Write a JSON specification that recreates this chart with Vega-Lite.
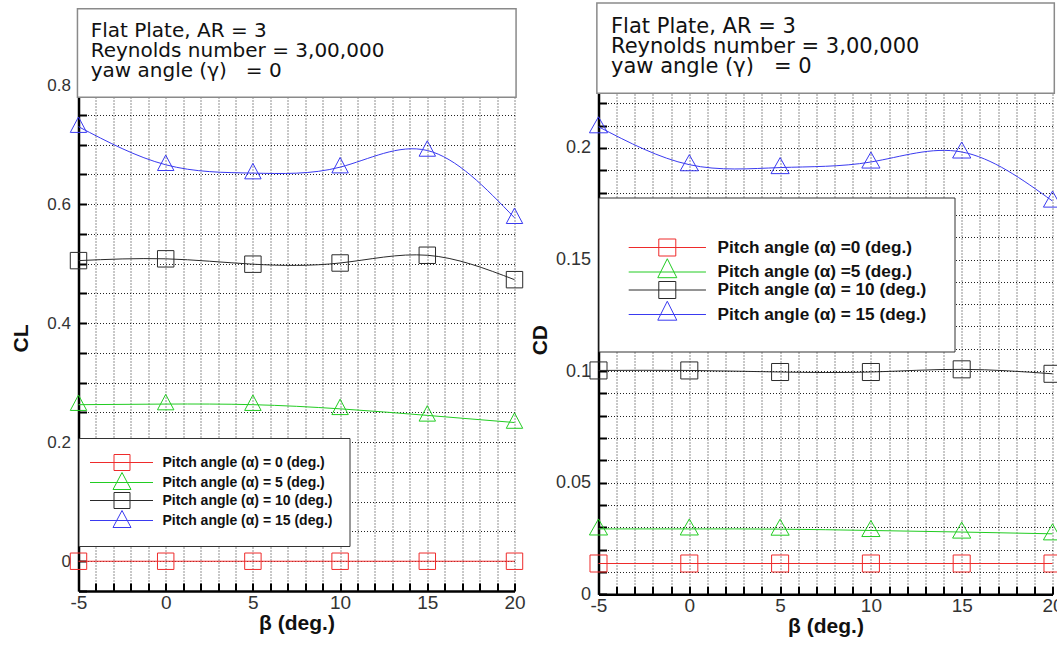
{
  "$schema": "https://vega.github.io/schema/vega-lite/v6.json",
  "background": "white",
  "padding": {"left": 10.5, "top": 2, "right": 0, "bottom": 0},
  "spacing": 3,
  "config": {"view": {"stroke": null}, "font": "Liberation Sans"},
  "datasets": {
    "cl": [
      {"beta": -5, "value": 0, "series": "Pitch angle (α) = 0 (deg.)"},
      {"beta": 0, "value": 0, "series": "Pitch angle (α) = 0 (deg.)"},
      {"beta": 5, "value": 0, "series": "Pitch angle (α) = 0 (deg.)"},
      {"beta": 10, "value": 0, "series": "Pitch angle (α) = 0 (deg.)"},
      {"beta": 15, "value": 0, "series": "Pitch angle (α) = 0 (deg.)"},
      {"beta": 20, "value": 0, "series": "Pitch angle (α) = 0 (deg.)"},
      {"beta": -5, "value": 0.263, "series": "Pitch angle (α) = 5 (deg.)"},
      {"beta": 0, "value": 0.264, "series": "Pitch angle (α) = 5 (deg.)"},
      {"beta": 5, "value": 0.263, "series": "Pitch angle (α) = 5 (deg.)"},
      {"beta": 10, "value": 0.256, "series": "Pitch angle (α) = 5 (deg.)"},
      {"beta": 15, "value": 0.245, "series": "Pitch angle (α) = 5 (deg.)"},
      {"beta": 20, "value": 0.233, "series": "Pitch angle (α) = 5 (deg.)"},
      {"beta": -5, "value": 0.505, "series": "Pitch angle (α) = 10 (deg.)"},
      {"beta": 0, "value": 0.508, "series": "Pitch angle (α) = 10 (deg.)"},
      {"beta": 5, "value": 0.499, "series": "Pitch angle (α) = 10 (deg.)"},
      {"beta": 10, "value": 0.501, "series": "Pitch angle (α) = 10 (deg.)"},
      {"beta": 15, "value": 0.514, "series": "Pitch angle (α) = 10 (deg.)"},
      {"beta": 20, "value": 0.473, "series": "Pitch angle (α) = 10 (deg.)"},
      {"beta": -5, "value": 0.730, "series": "Pitch angle (α) = 15 (deg.)"},
      {"beta": 0, "value": 0.666, "series": "Pitch angle (α) = 15 (deg.)"},
      {"beta": 5, "value": 0.652, "series": "Pitch angle (α) = 15 (deg.)"},
      {"beta": 10, "value": 0.662, "series": "Pitch angle (α) = 15 (deg.)"},
      {"beta": 15, "value": 0.690, "series": "Pitch angle (α) = 15 (deg.)"},
      {"beta": 20, "value": 0.577, "series": "Pitch angle (α) = 15 (deg.)"}
    ],
    "cd": [
      {"beta": -5, "value": 0.0138, "series": "Pitch angle (α) =0 (deg.)"},
      {"beta": 0, "value": 0.0138, "series": "Pitch angle (α) =0 (deg.)"},
      {"beta": 5, "value": 0.0138, "series": "Pitch angle (α) =0 (deg.)"},
      {"beta": 10, "value": 0.0138, "series": "Pitch angle (α) =0 (deg.)"},
      {"beta": 15, "value": 0.0138, "series": "Pitch angle (α) =0 (deg.)"},
      {"beta": 20, "value": 0.0138, "series": "Pitch angle (α) =0 (deg.)"},
      {"beta": -5, "value": 0.0293, "series": "Pitch angle (α) =5 (deg.)"},
      {"beta": 0, "value": 0.0293, "series": "Pitch angle (α) =5 (deg.)"},
      {"beta": 5, "value": 0.0292, "series": "Pitch angle (α) =5 (deg.)"},
      {"beta": 10, "value": 0.0286, "series": "Pitch angle (α) =5 (deg.)"},
      {"beta": 15, "value": 0.0279, "series": "Pitch angle (α) =5 (deg.)"},
      {"beta": 20, "value": 0.0271, "series": "Pitch angle (α) =5 (deg.)"},
      {"beta": -5, "value": 0.1003, "series": "Pitch angle (α) = 10 (deg.)"},
      {"beta": 0, "value": 0.1003, "series": "Pitch angle (α) = 10 (deg.)"},
      {"beta": 5, "value": 0.0996, "series": "Pitch angle (α) = 10 (deg.)"},
      {"beta": 10, "value": 0.0996, "series": "Pitch angle (α) = 10 (deg.)"},
      {"beta": 15, "value": 0.1008, "series": "Pitch angle (α) = 10 (deg.)"},
      {"beta": 20, "value": 0.0988, "series": "Pitch angle (α) = 10 (deg.)"},
      {"beta": -5, "value": 0.2095, "series": "Pitch angle (α) = 15 (deg.)"},
      {"beta": 0, "value": 0.1925, "series": "Pitch angle (α) = 15 (deg.)"},
      {"beta": 5, "value": 0.1912, "series": "Pitch angle (α) = 15 (deg.)"},
      {"beta": 10, "value": 0.1937, "series": "Pitch angle (α) = 15 (deg.)"},
      {"beta": 15, "value": 0.1982, "series": "Pitch angle (α) = 15 (deg.)"},
      {"beta": 20, "value": 0.1762, "series": "Pitch angle (α) = 15 (deg.)"}
    ]
  },
  "resolve": {"scale": {"color": "independent", "x": "independent", "y": "independent"}, "legend": {"color": "independent"}},
  "hconcat": [
    {
      "width": 436,
      "height": 506,
      "layer": [
        {
          "data": {"name": "cl"},
          "mark": {"type": "line", "interpolate": "natural", "strokeWidth": 1},
          "encoding": {
            "x": {"field": "beta", "type": "quantitative", "title": "β (deg.)",
              "scale": {"domain": [-5, 20], "nice": false, "zero": false},
              "axis": {
                "values": [-5,-4,-3,-2,-1,0,1,2,3,4,5,6,7,8,9,10,11,12,13,14,15,16,17,18,19,20], "tickCount": 100,
                "labelExpr": "datum.value % 5 === 0 ? (datum.value < 0 ? '-' + abs(datum.value) : '' + datum.value) : ''",
                "labelFlush": false, "labelOverlap": false, "labelBound": false,
                "grid": true, "gridDash": [1, 2], "gridColor": "#222", "gridWidth": 1,
                "domainColor": "black", "domainWidth": 2.5,
                "tickColor": "black", "tickWidth": 2, "tickSize": -8,
                "labelFontSize": 19, "labelColor": "#333", "labelPadding": 10,
                "titleFontSize": 21, "titleFontWeight": "bold", "titleColor": "#111", "titlePadding": 0
              }},
            "y": {"field": "value", "type": "quantitative", "title": "CL",
              "scale": {"domain": [-0.05, 0.8], "nice": false, "zero": false},
              "axis": {
                "values": [-0.05,0,0.05,0.1,0.15,0.2,0.25,0.3,0.35,0.4,0.45,0.5,0.55,0.6,0.65,0.7,0.75,0.8], "tickCount": 100,
                "labelExpr": "abs(datum.value*5 - round(datum.value*5)) < 0.001 ? format(datum.value, '.1~f') : ''",
                "labelFlush": false, "labelOverlap": false, "labelBound": false,
                "grid": true, "gridDash": [1, 2], "gridColor": "#222", "gridWidth": 1,
                "domainColor": "black", "domainWidth": 2.5,
                "tickColor": "black", "tickWidth": 2, "tickSize": -8,
                "labelFontSize": 17, "labelColor": "#333", "labelPadding": 16,
                "titleFontSize": 21, "titleFontWeight": "bold", "titleColor": "#111", "titlePadding": 15
              }},
            "color": {"field": "series", "type": "nominal",
              "scale": {"domain": ["Pitch angle (α) = 0 (deg.)", "Pitch angle (α) = 5 (deg.)", "Pitch angle (α) = 10 (deg.)", "Pitch angle (α) = 15 (deg.)"],
                        "range": ["#ee2b2b", "#22cc22", "#2a2a2a", "#3a3af0"]},
              "legend": {
                "orient": "none", "legendX": 0, "legendY": 353, "title": null,
                "fillColor": "white", "strokeColor": "#333", "padding": 16,
                "labelFont": "Liberation Sans", "labelFontSize": 14, "labelFontWeight": "bold", "labelColor": "#111", "labelLimit": 0,
                "symbolSize": 256, "symbolStrokeWidth": 1, "symbolFillColor": "transparent", "labelOffset": 51, "rowPadding": -3,
                "encode": {"symbols": {"update": {"shape": {"signal": "indexof(datum.value, '5 (deg') >= 0 ? 'M-1.625,0H6.25M2.375,-1.25L3.5,0.875H1.25Z' : 'M-1.625,0H6.25M1.375,-1H3.375V1H1.375Z'"}, "fill": {"value": "transparent"}}}}
              }}
          }
        },
        {
          "data": {"name": "cl"},
          "transform": [{"filter": "indexof(datum.series, '5 (deg') < 0"}],
          "mark": {"type": "point", "shape": "square", "filled": false, "strokeWidth": 1, "opacity": 1, "size": 270},
          "encoding": {
            "x": {"field": "beta", "type": "quantitative"},
            "y": {"field": "value", "type": "quantitative"},
            "color": {"field": "series", "type": "nominal"}
          }
        },
        {
          "data": {"name": "cl"},
          "transform": [{"filter": "indexof(datum.series, '5 (deg') >= 0"}],
          "mark": {"type": "point", "shape": "M0,-1.18L1,0.7L-1,0.7Z", "filled": false, "strokeWidth": 1, "opacity": 1, "size": 270},
          "encoding": {
            "x": {"field": "beta", "type": "quantitative"},
            "y": {"field": "value", "type": "quantitative"},
            "color": {"field": "series", "type": "nominal"}
          }
        },
        {
          "data": {"values": [{"box": "title"}]},
          "mark": {"type": "rect", "fill": "white", "stroke": "#8a8a8a", "strokeWidth": 1.5},
          "encoding": {
            "x": {"datum": -5.06, "type": "quantitative"},
            "x2": {"datum": 20.09},
            "y": {"datum": 0.928, "type": "quantitative"},
            "y2": {"datum": 0.7796}
          }
        },
        {
          "data": {"values": [{"note": "Flat Plate, AR = 3\nReynolds number = 3,00,000\nyaw angle (γ)\u00a0\u00a0 = 0"}]},
          "mark": {"type": "text", "font": "DejaVu Sans", "fontSize": 20, "lineHeight": 20, "align": "left", "baseline": "alphabetic", "lineBreak": "\n", "color": "#111"},
          "encoding": {
            "x": {"datum": -4.30, "type": "quantitative"},
            "y": {"datum": 0.880, "type": "quantitative"},
            "text": {"field": "note"}
          }
        }
      ]
    },
    {
      "width": 454,
      "height": 509.3,
      "layer": [
        {
          "data": {"name": "cd"},
          "mark": {"type": "line", "interpolate": "natural", "strokeWidth": 1},
          "encoding": {
            "x": {"field": "beta", "type": "quantitative", "title": "β (deg.)",
              "scale": {"domain": [-5, 20], "nice": false, "zero": false},
              "axis": {
                "values": [-5,-4,-3,-2,-1,0,1,2,3,4,5,6,7,8,9,10,11,12,13,14,15,16,17,18,19,20], "tickCount": 100,
                "labelExpr": "datum.value % 5 === 0 ? (datum.value < 0 ? '-' + abs(datum.value) : '' + datum.value) : ''",
                "labelFlush": false, "labelOverlap": false, "labelBound": false,
                "grid": true, "gridDash": [1, 2], "gridColor": "#222", "gridWidth": 1,
                "domainColor": "black", "domainWidth": 2.5,
                "tickColor": "black", "tickWidth": 2, "tickSize": -8,
                "labelFontSize": 19, "labelColor": "#333", "labelPadding": 10,
                "titleFontSize": 21, "titleFontWeight": "bold", "titleColor": "#111", "titlePadding": 0
              }},
            "y": {"field": "value", "type": "quantitative", "title": "CD",
              "scale": {"domain": [0, 0.2282], "nice": false, "zero": false},
              "axis": {
                "values": [0,0.01,0.02,0.03,0.04,0.05,0.06,0.07,0.08,0.09,0.1,0.11,0.12,0.13,0.14,0.15,0.16,0.17,0.18,0.19,0.2,0.21,0.22], "tickCount": 100,
                "labelExpr": "abs(datum.value*20 - round(datum.value*20)) < 0.001 ? format(datum.value, '.2~f') : ''",
                "labelFlush": false, "labelOverlap": false, "labelBound": false,
                "grid": true, "gridDash": [1, 2], "gridColor": "#222", "gridWidth": 1,
                "domainColor": "black", "domainWidth": 2.5,
                "tickColor": "black", "tickWidth": 2, "tickSize": -8,
                "labelFontSize": 18, "labelColor": "#333", "labelPadding": 16,
                "titleFontSize": 21, "titleFontWeight": "bold", "titleColor": "#111", "titlePadding": 5
              }},
            "color": {"field": "series", "type": "nominal",
              "scale": {"domain": ["Pitch angle (α) =0 (deg.)", "Pitch angle (α) =5 (deg.)", "Pitch angle (α) = 10 (deg.)", "Pitch angle (α) = 15 (deg.)"],
                        "range": ["#ee2b2b", "#22cc22", "#2a2a2a", "#3a3af0"]},
              "legend": {
                "orient": "none", "legendX": 0, "legendY": 112.5, "title": "\u00a0",
                "titleFontSize": 8, "titlePadding": 5, "titleColor": "white",
                "fillColor": "white", "strokeColor": "#333", "padding": 28,
                "labelFont": "Liberation Sans", "labelFontSize": 17.2, "labelFontWeight": "bold", "labelColor": "#111", "labelLimit": 0,
                "symbolSize": 289, "symbolStrokeWidth": 1, "symbolFillColor": "transparent", "labelOffset": 73, "rowPadding": -2.5,
                "encode": {"symbols": {"update": {"shape": {"signal": "indexof(datum.value, '5 (deg') >= 0 ? 'M-0.8,0H8.29M3.74,-1.56L4.86,0.67H2.62Z' : 'M-0.8,0H8.29M2.74,-1H4.74V1H2.74Z'"}, "fill": {"value": "transparent"}}}}
              }}
          }
        },
        {
          "data": {"name": "cd"},
          "transform": [{"filter": "indexof(datum.series, '5 (deg') < 0"}],
          "mark": {"type": "point", "shape": "square", "filled": false, "strokeWidth": 1, "opacity": 1, "size": 290},
          "encoding": {
            "x": {"field": "beta", "type": "quantitative"},
            "y": {"field": "value", "type": "quantitative"},
            "color": {"field": "series", "type": "nominal"}
          }
        },
        {
          "data": {"name": "cd"},
          "transform": [{"filter": "indexof(datum.series, '5 (deg') >= 0"}],
          "mark": {"type": "point", "shape": "M0,-1.15L1.05,0.7L-1.05,0.7Z", "filled": false, "strokeWidth": 1, "opacity": 1, "size": 300},
          "encoding": {
            "x": {"field": "beta", "type": "quantitative"},
            "y": {"field": "value", "type": "quantitative"},
            "color": {"field": "series", "type": "nominal"}
          }
        },
        {
          "data": {"values": [{"box": "title"}]},
          "mark": {"type": "rect", "fill": "white", "stroke": "#8a8a8a", "strokeWidth": 1.5},
          "encoding": {
            "x": {"datum": -5.09, "type": "quantitative"},
            "x2": {"datum": 20.10},
            "y": {"datum": 0.2649, "type": "quantitative"},
            "y2": {"datum": 0.2245}
          }
        },
        {
          "data": {"values": [{"note": "Flat Plate, AR = 3\nReynolds number = 3,00,000\nyaw angle (γ)\u00a0\u00a0 = 0"}]},
          "mark": {"type": "text", "font": "DejaVu Sans", "fontSize": 21, "lineHeight": 20, "align": "left", "baseline": "alphabetic", "lineBreak": "\n", "color": "#111"},
          "encoding": {
            "x": {"datum": -4.31, "type": "quantitative"},
            "y": {"datum": 0.2516, "type": "quantitative"},
            "text": {"field": "note"}
          }
        }
      ]
    }
  ]
}
